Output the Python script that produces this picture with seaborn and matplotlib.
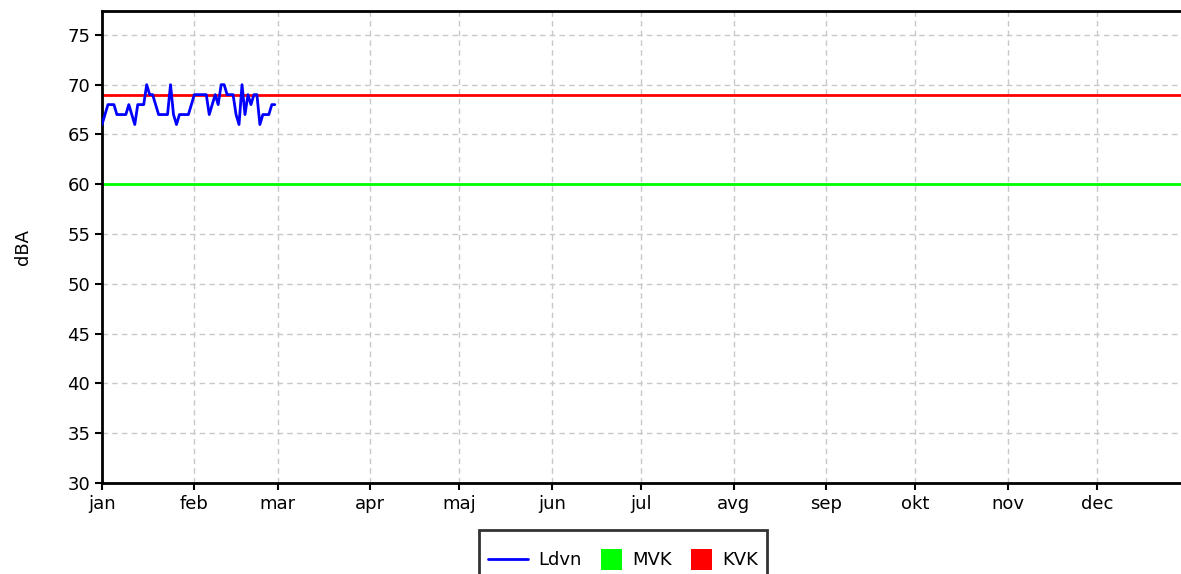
import numpy as np
import pandas as pd
import seaborn as sns
import matplotlib.pyplot as plt
from matplotlib.lines import Line2D
from matplotlib.patches import Patch, Rectangle
from matplotlib.legend_handler import HandlerBase

# daily Ldvn values, 1 jan - 28 feb
ldvn = [66, 67, 68, 68, 68, 67, 67, 67, 67, 68, 67, 66, 68, 68, 68, 70, 69, 69, 68, 67,
        67, 67, 67, 70, 67, 66, 67, 67, 67, 67, 68, 69, 69, 69, 69, 69, 67, 68, 69, 68,
        70, 70, 69, 69, 69, 67, 66, 70, 67, 69, 68, 69, 69, 66, 67, 67, 67, 68, 68]
mvk = 60
kvk = 69
months = ['jan', 'feb', 'mar', 'apr', 'maj', 'jun', 'jul', 'avg', 'sep', 'okt', 'nov', 'dec']
yticks = [30, 35, 40, 45, 50, 55, 60, 65, 70, 75]

dates = pd.date_range('2023-01-01', periods=len(ldvn), freq='D')
df = pd.DataFrame({'date': dates, 'Ldvn': ldvn})


# square legend boxes, narrower than the line entry
class SquareHandler(HandlerBase):
    def legend_artist(self, legend, orig_handle, fontsize, handlebox):
        s = 15
        handlebox.width = s
        cy = -handlebox.ydescent + handlebox.height / 2
        rect = Rectangle((-handlebox.xdescent, cy - s / 2), s, s,
                         facecolor=orig_handle.get_facecolor(), edgecolor='none',
                         transform=handlebox.get_transform())
        handlebox.add_artist(rect)
        return rect


# plain line entry at the same height as the squares
class LineHandler(HandlerBase):
    def legend_artist(self, legend, orig_handle, fontsize, handlebox):
        cy = -handlebox.ydescent + handlebox.height / 2
        x0 = -handlebox.xdescent
        line = Line2D([x0, x0 + handlebox.width], [cy, cy], color=orig_handle.get_color(),
                      lw=orig_handle.get_linewidth(), transform=handlebox.get_transform())
        handlebox.add_artist(line)
        return line


sns.set_style('white')
plt.rcParams['font.family'] = ['DejaVu Sans']
plt.rcParams['text.color'] = 'black'
plt.rcParams['axes.labelcolor'] = 'black'

fig = plt.figure(figsize=(11.81, 5.74), dpi=100)
ax = fig.add_axes([102 / 1181, 91 / 574, 1079 / 1181, 472 / 574])

ax.axhline(kvk, color='#ff0000', lw=2, zorder=2)
ax.axhline(mvk, color='#00ff00', lw=2, zorder=2)
sns.lineplot(data=df, x='date', y='Ldvn', color='#0000ff', lw=2, ax=ax, zorder=3)

ax.set_ylim(30, 77.4)
ax.set_yticks(yticks)
month_starts = pd.date_range('2023-01-01', periods=12, freq='MS')
ax.set_xticks(month_starts)
ax.set_xticklabels(months)
ax.set_xlim(pd.Timestamp('2023-01-01'), pd.Timestamp('2023-01-01') + pd.Timedelta(days=362.2))

ax.grid(True, color='#c8c8c8', linestyle=(0, (4, 3)), linewidth=1)
ax.set_axisbelow(True)
for side in ['left', 'bottom', 'top']:
    ax.spines[side].set_color('black')
    ax.spines[side].set_linewidth(2)
ax.spines['right'].set_visible(False)
ax.tick_params(axis='both', direction='out', length=5, width=1.5, color='black',
               labelsize=13, labelcolor='black', left=True, bottom=True)
ax.set_xlabel('')
ax.set_ylabel('dBA', fontsize=13, labelpad=25, color='black')

ldvn_line = Line2D([0], [0], color='#0000ff', lw=2)
mvk_patch = Patch(facecolor='#00ff00')
kvk_patch = Patch(facecolor='#ff0000')
leg = ax.legend([ldvn_line, mvk_patch, kvk_patch], ['Ldvn', 'MVK', 'KVK'],
                loc='upper center', ncol=3,
                bbox_to_anchor=(0.483, -0.0805), frameon=True, fancybox=False,
                fontsize=13, handlelength=2.2, handleheight=3.1, columnspacing=1.1,
                handletextpad=0.55, borderpad=0.5, labelcolor='black',
                handler_map={ldvn_line: LineHandler(), mvk_patch: SquareHandler(),
                             kvk_patch: SquareHandler()})
leg.get_frame().set_edgecolor('black')
leg.get_frame().set_linewidth(2)

fig.savefig('out.png', dpi=100)
